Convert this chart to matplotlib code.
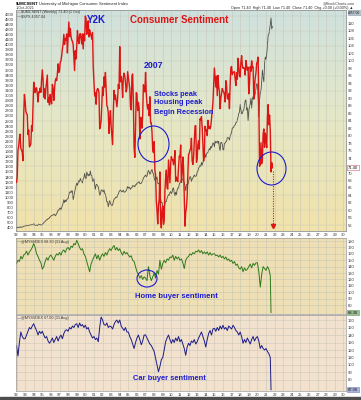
import numpy as np
import pandas as pd
import matplotlib
matplotlib.use('Agg')
import matplotlib.pyplot as plt
from matplotlib.patches import Ellipse
from matplotlib.lines import Line2D
from matplotlib.colors import LinearSegmentedColormap

plt.rcParams['font.family'] = ['Liberation Sans', 'DejaVu Sans']

# UMich consumer sentiment, monthly Jan 1992 .. Oct 2021
sentiment = [
    67.5, 68.8, 76.0, 77.2, 79.2, 80.4, 76.6, 76.1, 75.6, 73.3, 85.3, 91.0,
    89.3, 86.6, 85.9, 85.6, 80.3, 81.5, 77.0, 77.3, 77.9, 82.7, 81.2, 88.2,
    94.3, 93.2, 91.5, 92.6, 92.8, 91.2, 89.0, 91.7, 91.5, 92.7, 91.6, 95.1,
    97.6, 95.1, 90.3, 92.5, 89.8, 92.7, 94.4, 96.2, 88.9, 90.2, 88.2, 91.0,
    89.3, 88.5, 93.7, 92.7, 89.4, 92.4, 94.7, 95.3, 94.7, 96.5, 99.2, 96.9,
    97.4, 99.7, 100.0, 101.4, 103.2, 104.5, 107.1, 104.4, 106.0, 105.6, 107.2, 102.1,
    106.6, 110.4, 106.5, 108.7, 106.5, 105.6, 105.2, 104.4, 100.9, 97.4, 102.7, 100.5,
    103.9, 108.1, 105.7, 104.6, 106.8, 107.3, 106.0, 104.5, 107.2, 103.2, 107.2, 105.4,
    112.0, 111.3, 107.1, 109.2, 110.7, 106.4, 108.3, 107.3, 106.8, 105.8, 107.6, 98.4,
    94.7, 90.6, 91.5, 88.4, 92.0, 92.6, 92.4, 91.5, 81.8, 82.7, 83.9, 88.8,
    93.0, 90.7, 95.7, 93.0, 96.9, 92.4, 88.1, 87.6, 86.1, 80.6, 84.2, 86.7,
    82.4, 79.9, 77.6, 86.0, 92.1, 89.7, 90.9, 89.3, 87.7, 89.6, 93.7, 92.6,
    103.8, 94.4, 95.8, 94.2, 90.2, 95.6, 96.7, 95.9, 94.2, 91.7, 92.8, 97.1,
    95.5, 94.1, 92.6, 87.7, 86.9, 96.0, 96.5, 89.1, 76.9, 74.2, 81.6, 91.5,
    91.2, 86.7, 88.9, 87.4, 79.1, 84.9, 84.7, 82.0, 85.4, 93.6, 92.1, 91.7,
    96.9, 91.3, 88.4, 87.1, 88.3, 85.3, 90.4, 83.4, 83.4, 80.9, 76.1, 75.5,
    78.4, 70.8, 69.5, 62.6, 59.8, 56.4, 61.2, 63.0, 70.3, 57.6, 55.3, 60.1,
    61.2, 56.3, 57.3, 65.1, 68.7, 70.8, 66.0, 65.7, 73.5, 70.6, 67.4, 72.5,
    74.4, 73.6, 73.6, 72.2, 73.6, 76.0, 67.8, 68.9, 68.2, 67.7, 71.6, 74.5,
    74.2, 77.5, 67.5, 69.8, 74.3, 71.5, 63.7, 55.8, 59.5, 60.8, 63.7, 69.9,
    75.0, 75.3, 76.2, 76.4, 79.3, 73.2, 72.3, 74.3, 78.3, 82.6, 82.7, 72.9,
    73.8, 77.6, 78.6, 76.4, 84.5, 84.1, 85.1, 82.1, 77.5, 73.2, 75.1, 82.5,
    81.2, 81.6, 80.0, 84.1, 81.9, 82.5, 81.8, 82.5, 84.6, 86.9, 88.8, 93.6,
    98.1, 95.4, 93.0, 95.9, 90.7, 96.1, 93.1, 91.9, 87.2, 90.0, 91.3, 92.6,
    92.0, 91.7, 91.0, 89.0, 94.7, 93.5, 90.0, 89.8, 91.2, 87.2, 93.8, 98.2,
    98.5, 96.3, 96.9, 97.0, 97.1, 95.0, 93.4, 96.8, 95.1, 100.7, 98.5, 95.9,
    95.7, 99.7, 101.4, 98.8, 98.0, 98.2, 97.9, 96.2, 100.1, 98.6, 97.5, 98.3,
    91.2, 93.8, 98.4, 97.2, 100.0, 98.2, 98.4, 89.8, 93.2, 95.5, 96.8, 99.3,
    99.8, 101.0, 89.1, 71.8, 72.3, 78.1, 72.5, 74.1, 80.4, 81.8, 76.9, 80.7,
    79.0, 76.8, 84.9, 88.3, 82.9, 85.5, 81.2, 70.3, 72.8, 71.4,
]

# S&P 500, monthly closes Jan 1992 .. Oct 2021
spx = [
    408, 413, 404, 415, 415, 408, 424, 414, 418, 419, 431, 436,
    439, 443, 452, 440, 450, 451, 448, 464, 459, 468, 462, 466,
    482, 467, 446, 451, 457, 444, 458, 475, 463, 472, 454, 459,
    470, 487, 501, 515, 533, 545, 562, 562, 584, 582, 605, 616,
    636, 640, 646, 654, 669, 671, 640, 652, 687, 705, 757, 741,
    786, 791, 757, 801, 848, 885, 954, 899, 947, 915, 955, 970,
    980, 1049, 1102, 1112, 1091, 1134, 1121, 957, 1017, 1099, 1164, 1229,
    1280, 1238, 1286, 1335, 1302, 1373, 1329, 1320, 1283, 1363, 1389, 1469,
    1394, 1366, 1499, 1452, 1421, 1455, 1431, 1518, 1437, 1429, 1315, 1320,
    1366, 1240, 1160, 1249, 1256, 1224, 1211, 1134, 1041, 1060, 1139, 1148,
    1130, 1107, 1147, 1076, 1067, 990, 912, 916, 815, 886, 936, 880,
    856, 841, 848, 916, 964, 975, 990, 1008, 996, 1051, 1058, 1112,
    1131, 1145, 1126, 1107, 1121, 1141, 1102, 1104, 1115, 1130, 1174, 1212,
    1181, 1204, 1181, 1157, 1192, 1191, 1234, 1220, 1229, 1207, 1249, 1248,
    1280, 1281, 1295, 1311, 1270, 1270, 1277, 1304, 1336, 1378, 1401, 1418,
    1438, 1407, 1421, 1482, 1531, 1503, 1455, 1474, 1527, 1549, 1481, 1468,
    1379, 1331, 1323, 1386, 1400, 1280, 1267, 1283, 1166, 969, 896, 903,
    826, 735, 798, 873, 919, 919, 987, 1021, 1057, 1036, 1096, 1115,
    1074, 1104, 1169, 1187, 1089, 1031, 1102, 1049, 1141, 1183, 1181, 1258,
    1286, 1327, 1326, 1364, 1345, 1321, 1292, 1219, 1131, 1253, 1247, 1258,
    1312, 1366, 1408, 1398, 1310, 1362, 1379, 1407, 1441, 1412, 1416, 1426,
    1498, 1515, 1569, 1598, 1631, 1606, 1686, 1633, 1682, 1757, 1806, 1848,
    1783, 1859, 1872, 1884, 1924, 1960, 1931, 2003, 1972, 2018, 2068, 2059,
    1995, 2105, 2068, 2086, 2107, 2063, 2104, 1972, 1920, 2079, 2080, 2044,
    1940, 1932, 2060, 2065, 2097, 2099, 2174, 2171, 2168, 2126, 2199, 2239,
    2279, 2364, 2363, 2384, 2412, 2423, 2470, 2472, 2519, 2575, 2648, 2674,
    2824, 2714, 2641, 2648, 2705, 2718, 2816, 2902, 2914, 2712, 2760, 2507,
    2704, 2784, 2834, 2946, 2752, 2942, 2980, 2926, 2977, 3038, 3141, 3231,
    3226, 2954, 2585, 2912, 3044, 3100, 3271, 3500, 3363, 3270, 3622, 3756,
    3714, 3811, 3973, 4181, 4204, 4298, 4395, 4523, 4308, 4357,
]

# home buying conditions, every other month Jan 1992 .. Jul 2021, then Aug 2021
home = [
    145, 150, 148, 156, 152, 158,
    160, 164, 158, 163, 166, 170,
    176, 170, 160, 156, 150, 146,
    136, 140, 148, 154, 150, 156,
    158, 154, 150, 156, 160, 158,
    162, 158, 164, 166, 162, 168,
    170, 166, 172, 170, 176, 174,
    181, 176, 170, 166, 168, 160,
    156, 148, 140, 132, 144, 150,
    155, 160, 152, 158, 150, 156,
    160, 156, 162, 158, 164, 168,
    165, 170, 173, 166, 170, 165,
    168, 162, 158, 164, 160, 162,
    158, 155, 157, 150, 148, 140,
    132, 128, 122, 126, 120, 124,
    122, 118, 140, 126, 118, 124,
    130, 122, 134, 128, 150, 136,
    145, 150, 146, 152, 150, 155,
    154, 158, 150, 156, 152, 155,
    150, 152, 146, 137, 150, 154,
    156, 160, 158, 162, 160, 164,
    163, 166, 162, 165, 160, 163,
    160, 163, 158, 162, 158, 160,
    160, 157, 158, 155, 158, 154,
    156, 152, 155, 150, 152, 148,
    150, 145, 148, 142, 144, 138,
    136, 140, 132, 138, 134, 136,
    140, 144, 138, 145, 142, 146,
    146, 132, 108, 128, 140, 137,
    134, 140, 136, 126,
]
home_last = 68.30

# vehicle buying conditions, same spacing
car = [
    126, 112, 130, 144, 138, 135,
    135, 140, 145, 150, 148, 152,
    155, 150, 146, 140, 145, 142,
    145, 140, 136, 138, 132, 129,
    132, 136, 130, 134, 138, 132,
    137, 140, 135, 142, 146, 147,
    145, 150, 148, 152, 150, 154,
    155, 150, 156, 152, 154, 150,
    153, 148, 150, 144, 140, 136,
    138, 134, 136, 131, 150, 164,
    160, 154, 153, 156, 150, 152,
    151, 148, 154, 158, 160, 156,
    160, 152, 149, 146, 150, 144,
    144, 138, 134, 128, 122, 130,
    136, 140, 134, 127, 132, 140,
    140, 136, 132, 128, 126, 122,
    118, 109, 100, 91, 98, 107,
    110, 120, 131, 136, 140, 134,
    129, 134, 130, 136, 132, 138,
    131, 134, 128, 122, 113, 124,
    129, 126, 132, 130, 134, 128,
    131, 136, 140, 144, 138, 132,
    124, 134, 142, 146, 140, 148,
    149, 145, 150, 146, 152, 148,
    153, 148, 150, 146, 152, 150,
    148, 153, 150, 146, 144, 140,
    144, 138, 129, 134, 130, 136,
    132, 128, 134, 138, 132, 136,
    138, 132, 122, 126, 122, 120,
    122, 118, 115, 110,
]
car_last = 67.00
last_month = '2021-08-01'

year_ticks = list(range(1992, 2031))


def decimal_years(dates):
    dates = pd.DatetimeIndex(dates)
    return dates.year + (dates.month - 1) / 12


t_month = decimal_years(pd.date_range('1992-01-01', periods=len(sentiment), freq='MS'))
t_sub = decimal_years(pd.date_range('1992-01-01', periods=len(home), freq='2MS'))
t_sub = np.append(t_sub, decimal_years([last_month]))
home_t = np.append(home, home_last)
car_t = np.append(car, car_last)

W, H = 361, 400
BLUE = '#1c1cd0'
RED = '#dd1515'
GRID = '#c9c7b8'
XLIM = (1991.94, 2030.3)


def fx(x):
    return x / W


def fy(y):
    return 1 - y / H


def rect(top, bottom, left=16, right=346):
    return [fx(left), fy(bottom), (right - left) / W, (bottom - top) / H]


def base_style(ax, xlabels):
    ax.set_xlim(*XLIM)
    ax.set_xticks(year_ticks)
    ax.set_xticklabels([f'{y % 100:02d}' for y in year_ticks] if xlabels else [])
    ax.tick_params(axis='x', length=0, labelsize=3, pad=1.5, colors='#333333')
    ax.grid(axis='x', color=GRID, lw=0.4)
    ax.set_axisbelow(True)
    for s in ax.spines.values():
        s.set_color('#9a9a9a')
        s.set_linewidth(0.5)


def right_ticks(ax, ticks):
    ax.yaxis.tick_right()
    ax.set_yticks(ticks)
    ax.set_yticklabels([str(v) for v in ticks])
    ax.tick_params(axis='y', length=0, labelsize=3, pad=1.5, colors='#333333')


def value_box(ax, y, text, face, edge, size=3):
    ax.text(1.006, y, text, transform=ax.get_yaxis_transform(), fontsize=size,
            va='center', ha='left', color='#111111', zorder=10, clip_on=False,
            bbox=dict(boxstyle='square,pad=0.15', fc=face, ec=edge, lw=0.4))


fig = plt.figure(figsize=(W / 100, H / 100), dpi=100)

# ---- top panel: sentiment vs SPX
ax1 = fig.add_axes(rect(10, 231))
ax1r = ax1.twinx()
ax1.set_ylim(340, 4680)
ax1r.set_ylim(54.5, 113.6)

cmap = LinearSegmentedColormap.from_list('bg', ['#cfe1de', '#e5e8c6', '#f1e2aa'])
grad = np.linspace(0, 1, 256).reshape(-1, 1)
ax1.imshow(grad, extent=[XLIM[0], XLIM[1], 340, 4680], aspect='auto',
           cmap=cmap, origin='upper', zorder=0)

base_style(ax1, True)
ax1.set_yticks(range(400, 4700, 100))
ax1.set_yticklabels([str(v) for v in range(400, 4700, 100)])
ax1.tick_params(axis='y', length=0, labelsize=3, pad=1.5, colors='#333333')
ax1.plot(t_month, spx, color='#4f4f48', lw=0.6, zorder=3)

# the 72 label sits under the last-value box
sent_ticks = [v for v in range(56, 111, 2) if v != 72]
right_ticks(ax1r, sent_ticks)
for v in range(56, 113, 4):
    ax1r.axhline(v, color=GRID, lw=0.3, zorder=0)
for s in ax1r.spines.values():
    s.set_color('#9a9a9a')
    s.set_linewidth(0.5)
ax1r.plot(t_month, sentiment, color=RED, lw=1.0, zorder=4)
ax1r.set_xlim(*XLIM)
value_box(ax1r, sentiment[-1], f'{sentiment[-1]:.2f}', '#ffffff', '#d06060')
ax1r.text(1.006, 0.988, f'{spx[-1]:.2f}', transform=ax1r.transAxes, fontsize=2.4,
          va='center', ha='left', color='#111111', clip_on=False,
          bbox=dict(boxstyle='square,pad=0.12', fc='#b8c4cc', ec='#8899aa', lw=0.4))

# ---- middle panel: home buying
ax2 = fig.add_axes(rect(238, 314))
ax2.set_facecolor('#efdfb4')
base_style(ax2, False)
ax2.set_ylim(66, 184.7)
right_ticks(ax2, list(range(80, 181, 10)))
ax2.grid(axis='y', color=GRID, lw=0.4)
ax2.plot(t_sub, home_t, color='#2f7a1c', lw=0.7)
value_box(ax2, home_last, f'{home_last:.2f}', '#9cbf94', '#6a9a60')

# ---- bottom panel: car buying
ax3 = fig.add_axes(rect(315, 391))
ax3.set_facecolor('#f2e2cd')
base_style(ax3, True)
ax3.set_ylim(65.3, 166.7)
right_ticks(ax3, list(range(80, 161, 10)))
ax3.grid(axis='y', color=GRID, lw=0.4)
ax3.plot(t_sub, car_t, color='#1a1a88', lw=0.7)
value_box(ax3, car_last, f'{car_last:.2f}', '#aab2dc', '#7080c0')

# ---- header and legends
fig.text(fx(16), fy(4), '$UMCSENT', fontsize=3, weight='bold', va='center')
fig.text(fx(39), fy(4), 'University of Michigan Consumer Sentiment Index', fontsize=2.9, va='center', color='#222222')
fig.text(fx(16), fy(8), '1-Oct-2021', fontsize=2.7, va='center', color='#333333')
fig.text(fx(355), fy(3), '@StockCharts.com', fontsize=2.7, va='center', ha='right', color='#444444')
fig.text(fx(353), fy(8), 'Open 71.40  High 71.40  Low 71.40  Close 71.40  Chg +0.00 (+0.00%) \u25b2',
         fontsize=2.7, va='center', ha='right', color='#222222')

legends = [
    (12.5, RED, '$UMCSENT (Weekly) 71.40 (1 Oct)'),
    (16, '#333333', '$SPX 4357.04'),
    (241.5, '#2f7a1c', '@MYSHDEX 68.30 (31 Aug)'),
    (318.5, '#1a1a88', '@MYSVDEX 67.00 (31 Aug)'),
]
for y, c, txt in legends:
    fig.text(fx(17), fy(y), '\u2014', fontsize=2.8, va='center', color=c)
    fig.text(fx(21), fy(y), txt, fontsize=2.7, va='center', color='#333333')

# ---- annotations
fig.text(fx(87), fy(20), 'Y2K', fontsize=7, weight='bold', color=BLUE, va='center')
fig.text(fx(130), fy(20), 'Consumer Sentiment', fontsize=7, weight='bold', color=RED, va='center')
fig.text(fx(144), fy(65), '2007', fontsize=6.3, weight='bold', color=BLUE, va='center')
for y, txt in [(94, 'Stocks peak'), (103, 'Housing peak'), (112, 'Begin Recession')]:
    fig.text(fx(154), fy(y), txt, fontsize=5.3, weight='bold', color=BLUE, va='center')
fig.text(fx(135), fy(297), 'Home buyer sentiment', fontsize=5.5, weight='bold', color=BLUE, va='center')
fig.text(fx(133), fy(378), 'Car buyer sentiment', fontsize=5.4, weight='bold', color=BLUE, va='center')

for cx, cy, w, h in [(153.5, 144, 31, 36), (271.5, 168.5, 29, 33), (147, 278.5, 20, 17)]:
    fig.add_artist(Ellipse((fx(cx), fy(cy)), w / W, h / H, transform=fig.transFigure,
                           fill=False, ec=BLUE, lw=0.8))

fig.add_artist(Line2D([fx(273), fx(273)], [fy(171), fy(224)], transform=fig.transFigure,
                      color=RED, lw=0.8, ls=(0, (1, 1.2))))
fig.add_artist(Line2D([fx(273)], [fy(226)], transform=fig.transFigure, marker='v',
                      ms=3, color=RED, mec=RED))

# dark strip at the bottom edge
fig.add_artist(plt.Rectangle((0, 0), 1, 3 / H, transform=fig.transFigure, color='#4d4d4d'))

fig.savefig('out.png', dpi=100)
